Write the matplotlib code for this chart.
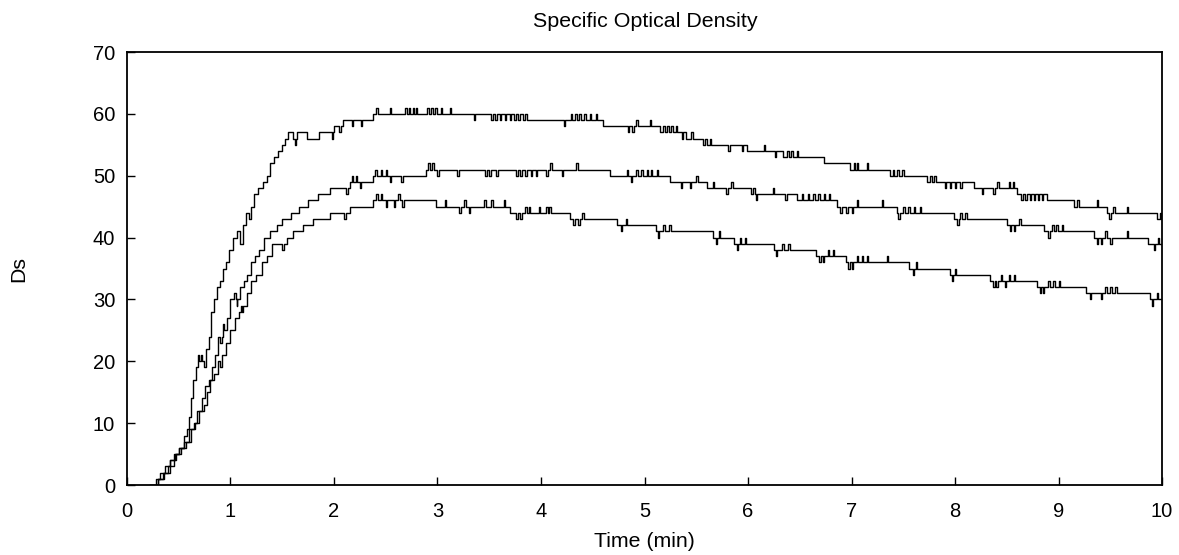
import numpy as np
import matplotlib
matplotlib.use("Agg")
import matplotlib.pyplot as plt

plt.rcParams['font.family'] = ['Liberation Sans', 'DejaVu Sans']

# step breakpoints (time in min, Ds level from that time on)
top_t = [0.22, 0.28, 0.32, 0.37, 0.42, 0.46, 0.50, 0.55, 0.58, 0.60, 0.62, 0.64, 0.67, 0.69,
         0.72, 0.74, 0.76, 0.79, 0.81, 0.84, 0.87, 0.90, 0.93, 0.96, 0.99, 1.02, 1.06, 1.09,
         1.12, 1.15, 1.18, 1.20, 1.23, 1.27, 1.31, 1.35, 1.38, 1.42, 1.46, 1.50, 1.53, 1.56,
         1.60, 1.64, 1.74, 1.86, 2.00, 2.09, 2.38, 3.86, 4.60, 5.15, 5.40, 5.60, 5.99, 6.34,
         6.73, 6.99, 7.37, 7.73, 8.18, 8.60, 8.89, 9.15, 9.47, 9.95]
top_v = [0, 1, 2, 3, 4, 5, 6, 8, 9, 11, 14, 17, 19, 21,
         20, 19, 22, 24, 28, 30, 32, 33, 35, 36, 38, 40, 41, 39,
         42, 44, 43, 45, 47, 48, 49, 50, 52, 53, 54, 55, 56, 57,
         56, 57, 56, 57, 58, 59, 60, 59, 58, 57, 56, 55, 54, 53,
         52, 51, 50, 49, 48, 47, 46, 45, 44, 43]

mid_t = [0.22, 0.30, 0.35, 0.40, 0.45, 0.50, 0.55, 0.60, 0.65, 0.68, 0.72, 0.75, 0.79, 0.82,
         0.85, 0.88, 0.90, 0.93, 0.97, 1.00, 1.03, 1.06, 1.09, 1.13, 1.16, 1.20, 1.24, 1.28,
         1.32, 1.38, 1.45, 1.50, 1.58, 1.66, 1.75, 1.85, 1.96, 2.15, 2.38, 2.89, 4.67, 5.25,
         5.60, 6.08, 6.47, 6.86, 7.44, 7.99, 8.50, 8.86, 9.34, 9.86]
mid_v = [0, 1, 2, 3, 5, 6, 7, 9, 10, 12, 14, 16, 17, 19,
         21, 24, 23, 25, 27, 30, 31, 30, 32, 33, 34, 36, 37, 38,
         40, 41, 42, 43, 44, 45, 46, 47, 48, 49, 50, 51, 50, 49,
         48, 47, 46, 45, 44, 43, 42, 41, 40, 39]

bot_t = [0.22, 0.30, 0.36, 0.42, 0.47, 0.52, 0.57, 0.62, 0.66, 0.70, 0.74, 0.77, 0.80, 0.84,
         0.88, 0.92, 0.96, 1.00, 1.04, 1.08, 1.12, 1.16, 1.20, 1.25, 1.30, 1.35, 1.40, 1.55,
         1.60, 1.70, 1.80, 1.96, 2.15, 2.38, 2.99, 3.70, 4.28, 4.73, 5.11, 5.66, 5.86, 6.25,
         6.66, 6.95, 7.56, 7.95, 8.34, 8.79, 9.27, 9.88]
bot_v = [0, 1, 2, 4, 5, 6, 7, 9, 10, 12, 13, 15, 17, 18,
         20, 21, 23, 25, 27, 28, 29, 31, 33, 34, 36, 37, 39, 40,
         41, 42, 43, 44, 45, 46, 45, 44, 43, 42, 41, 40, 39, 38,
         37, 36, 35, 34, 33, 32, 31, 30]

# one-sample blips (time, jump)
top_spikes = [(0.70, -1), (1.62, -1), (1.98, -1), (2.05, -1), (2.17, -1), (2.26, -1), (2.41, 1),
              (2.54, 1), (2.69, 1), (2.72, 1), (2.76, 1), (2.79, 1), (2.90, 1), (2.94, 1),
              (2.98, 1), (3.03, 1), (3.12, 1), (3.35, -1), (3.52, -1), (3.56, -1), (3.60, -1),
              (3.65, -1), (3.70, -1), (3.74, -1), (3.78, -1), (3.83, -1), (4.22, -1), (4.29, 1),
              (4.33, 1), (4.37, 1), (4.42, 1), (4.47, 1), (4.53, 1), (4.84, -1), (4.88, -1),
              (4.92, 1), (5.05, 1), (5.18, 1), (5.22, 1), (5.26, 1), (5.30, 1), (5.36, -1),
              (5.45, 1), (5.57, -1), (5.63, 1), (5.81, -1), (5.94, -1), (6.15, 1), (6.26, -1),
              (6.38, 1), (6.42, 1), (6.47, 1), (7.02, 1), (7.05, 1), (7.15, 1), (7.40, 1),
              (7.44, 1), (7.49, 1), (7.76, 1), (7.80, 1), (7.90, -1), (7.95, -1), (8.00, -1),
              (8.05, -1), (8.26, -1), (8.37, -1), (8.41, 1), (8.52, 1), (8.56, 1), (8.64, -1),
              (8.68, -1), (8.72, -1), (8.76, -1), (8.80, -1), (8.84, -1), (9.18, 1), (9.37, 1),
              (9.49, -1), (9.53, 1), (9.66, 1), (9.98, 1)]
mid_spikes = [(0.92, 1), (1.05, -1), (2.12, -1), (2.17, 1), (2.21, 1), (2.25, -1), (2.40, 1),
              (2.45, 1), (2.50, 1), (2.54, -1), (2.65, -1), (2.91, 1), (2.95, 1), (3.00, -1),
              (3.19, -1), (3.46, -1), (3.50, -1), (3.57, -1), (3.76, -1), (3.80, -1), (3.85, -1),
              (3.90, -1), (3.95, -1), (4.05, -1), (4.09, 1), (4.20, -1), (4.34, 1), (4.83, 1),
              (4.87, -1), (4.92, 1), (4.97, 1), (5.02, 1), (5.06, 1), (5.12, 1), (5.35, -1),
              (5.44, -1), (5.50, 1), (5.66, 1), (5.79, -1), (5.84, 1), (6.03, -1), (6.07, -1),
              (6.24, 1), (6.36, -1), (6.52, 1), (6.58, 1), (6.63, 1), (6.68, 1), (6.73, 1),
              (6.78, 1), (6.89, -1), (6.95, -1), (7.00, -1), (7.05, 1), (7.29, 1), (7.45, -1),
              (7.50, 1), (7.55, 1), (7.60, 1), (7.66, 1), (8.02, -1), (8.05, 1), (8.10, 1),
              (8.53, -1), (8.57, -1), (8.62, 1), (8.90, -1), (8.94, 1), (8.98, 1), (9.03, 1),
              (9.37, -1), (9.41, -1), (9.45, 1), (9.50, -1), (9.66, 1), (9.92, -1), (9.96, 1)]
bot_spikes = [(0.90, -1), (1.10, 1), (1.50, -1), (2.10, -1), (2.41, 1), (2.45, 1), (2.50, -1),
              (2.58, -1), (2.62, 1), (2.66, -1), (3.07, 1), (3.21, -1), (3.26, 1), (3.30, -1),
              (3.45, 1), (3.52, 1), (3.64, 1), (3.76, -1), (3.80, -1), (3.85, 1), (3.88, 1),
              (3.98, 1), (4.05, 1), (4.08, 1), (4.31, -1), (4.36, -1), (4.40, 1), (4.77, -1),
              (4.82, 1), (5.13, -1), (5.18, 1), (5.24, 1), (5.69, -1), (5.72, 1), (5.89, -1),
              (5.92, 1), (5.97, 1), (6.27, -1), (6.33, 1), (6.39, 1), (6.69, -1), (6.72, -1),
              (6.77, 1), (6.82, 1), (6.97, -1), (7.00, -1), (7.05, 1), (7.10, 1), (7.15, 1),
              (7.34, 1), (7.59, -1), (7.62, 1), (7.97, -1), (8.00, 1), (8.37, -1), (8.40, -1),
              (8.44, 1), (8.48, -1), (8.52, 1), (8.57, 1), (8.82, -1), (8.85, -1), (8.90, 1),
              (8.95, 1), (9.00, 1), (9.30, -1), (9.41, -1), (9.45, 1), (9.50, 1), (9.55, 1),
              (9.90, -1), (9.95, 1)]

SPIKE_W = 0.014


def build_steps(ts, vs, spikes):
    ts = np.asarray(ts, float)
    vs = np.asarray(vs, float)
    xs = set(ts.tolist())
    for t, _ in spikes:
        xs.add(t)
        xs.add(round(t + SPIKE_W, 4))
    xs.add(10.0)
    x = np.array(sorted(xs))
    idx = np.searchsorted(ts, x, side='right') - 1
    y = vs[np.clip(idx, 0, None)]
    for t, d in spikes:
        y[(x >= t) & (x < t + SPIKE_W - 1e-9)] += d
    return x, y


fig = plt.figure(figsize=(11.79, 5.55), dpi=100)
ax = fig.add_axes([0.1077, 0.1261, 0.8779, 0.7802])

for ts, vs, sp in [(top_t, top_v, top_spikes), (mid_t, mid_v, mid_spikes), (bot_t, bot_v, bot_spikes)]:
    x, y = build_steps(ts, vs, sp)
    ax.plot(x, y, color='black', lw=1.0, drawstyle='steps-post')

ax.set_xlim(0, 10)
ax.set_ylim(0, 70)
ax.set_xticks(range(0, 11))
ax.set_yticks(range(0, 71, 10))
ax.tick_params(direction='in', length=5.5, width=1.0, labelsize=14.5)
ax.tick_params(axis='x', pad=12)
ax.tick_params(axis='y', pad=8.5)
for s in ax.spines.values():
    s.set_linewidth(1.3)

fig.text(0.547, 1 - 27 / 555, 'Specific Optical Density', fontsize=15.4,
         ha='center', va='baseline')
ax.set_xlabel('Time (min)', fontsize=15.3)
ax.xaxis.set_label_coords(0.5, -0.108)
ax.set_ylabel('Ds', fontsize=15.3)
ax.yaxis.set_label_coords(-0.0957, 0.5)

fig.savefig('out.png', dpi=100)
